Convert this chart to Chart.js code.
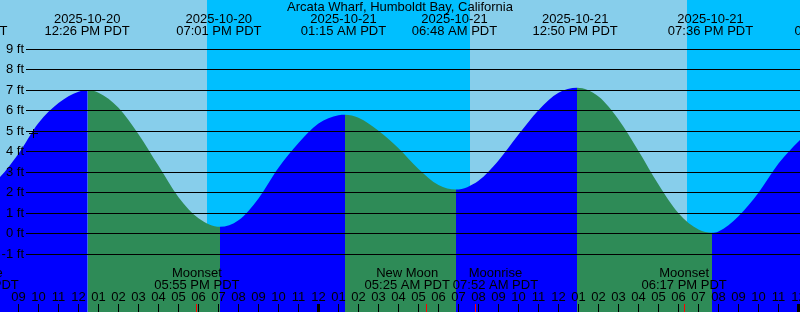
<!DOCTYPE html>
<html>
<head>
<meta charset="utf-8">
<title>Arcata Wharf tides</title>
<script src="https://cdn.jsdelivr.net/npm/chart.js@4/dist/chart.umd.min.js"></script>
<style>
  html, body { margin: 0; padding: 0; background: #87ceeb; }
  #wrap { position: relative; width: 800px; height: 312px; }
</style>
</head>
<body>
<div id="wrap"><canvas id="tideChart"></canvas></div>
<script>
// all times are hours counted from 2025-10-20 00:00 PDT
const stationName = 'Arcata Wharf, Humboldt Bay, California';

// tide height (ft), about hourly plus the turning points
const tideTimes = [6.32, 7, 8, 9, 10, 11, 12, 12.46, 13, 14,
  15, 16, 17, 18, 19.075, 20, 21, 22, 23, 24,
  25, 25.325, 26, 27, 28, 29, 30, 30.875, 32, 33,
  34, 35, 36, 36.925, 38, 39, 40, 41, 42, 43,
  43.675, 44, 45, 46, 47, 48, 49, 49.93];
const tideHeights = [1.8, 2.1, 2.7, 3.9, 5.4, 6.38, 6.93, 7.0, 6.88, 6.15,
  4.86, 3.31, 1.78, 0.75, 0.33, 0.65, 1.72, 3.22, 4.43, 5.38,
  5.78, 5.81, 5.66, 5.03, 4.17, 3.16, 2.37, 2.15, 2.58, 3.57,
  4.84, 6.03, 6.88, 7.13, 6.7, 5.58, 4.04, 2.4, 1.0, 0.2,
  0.04, 0.1, 0.85, 2.0, 3.42, 4.5, 5.4, 5.9];

// high / low tide labels along the top
const tideEventTimes = [6.32, 12.433, 19.017, 25.25, 30.8, 36.833, 43.6, 49.93];
const tideEventDates = ['2025-10-20', '2025-10-20', '2025-10-20', '2025-10-21',
  '2025-10-21', '2025-10-21', '2025-10-21', '2025-10-22'];
const tideEventClock = ['06:19 AM PDT', '12:26 PM PDT', '07:01 PM PDT', '01:15 AM PDT',
  '06:48 AM PDT', '12:50 PM PDT', '07:36 PM PDT', '01:56 AM PDT'];

// moon events along the bottom
const moonEventTimes = [6.88, 17.917, 29.417, 31.867, 42.283];
const moonEventNames = ['Moonrise', 'Moonset', 'New Moon', 'Moonrise', 'Moonset'];
const moonEventClock = ['06:53 AM PDT', '05:55 PM PDT', '05:25 AM PDT', '07:52 AM PDT', '06:17 PM PDT'];

// night = sunset .. sunrise
const nightStarts = [18.425, 42.425];
const nightEnds   = [31.575, 56];

const footTicks = [-1, 0, 1, 2, 3, 4, 5, 6, 7, 8, 9];

const markTimes   = [9.75];
const markHeights = [4.89];

const DAY   = '#87ceeb';
const NIGHT = '#00bfff';
const RISE  = '#0000ff';
const FALL  = '#2e8b57';
const FONT  = '13px "Liberation Sans", Arial, Helvetica, sans-serif';

function hourLabel(t) {
    const h = ((Math.round(t) % 12) + 12) % 12;
    return String(h === 0 ? 12 : h).padStart(2, '0');
}

// push overlapping labels apart, like xtide does
function spreadLabels(xs, widths, gap) {
    const pos = xs.slice();
    for (let pass = 0; pass < 6; pass++) {
        for (let i = 1; i < pos.length; i++) {
            const need = (widths[i - 1] + widths[i]) / 2 + gap;
            const have = pos[i] - pos[i - 1];
            if (have < need) {
                const d = (need - have) / 2;
                pos[i - 1] -= d;
                pos[i] += d;
            }
        }
    }
    return pos;
}

const skyPlugin = {
    id: 'sky',
    beforeDatasetsDraw(chart) {
        const { ctx, chartArea: a, scales: { x } } = chart;
        ctx.save();
        ctx.fillStyle = DAY;
        ctx.fillRect(a.left, a.top, a.right - a.left, a.bottom - a.top);
        ctx.fillStyle = NIGHT;
        nightStarts.forEach((s, i) => {
            const x0 = Math.round(x.getPixelForValue(s));
            const x1 = Math.round(x.getPixelForValue(nightEnds[i]));
            ctx.fillRect(x0, a.top, x1 - x0, a.bottom - a.top);
        });
        ctx.restore();
    }
};

const labelPlugin = {
    id: 'labels',
    afterDatasetsDraw(chart) {
        const { ctx, chartArea: a, scales: { x, y } } = chart;
        ctx.save();
        ctx.font = FONT;
        ctx.fillStyle = '#000';
        ctx.strokeStyle = '#000';
        ctx.lineWidth = 1;

        // ── foot lines + labels ──
        ctx.textAlign = 'right';
        ctx.textBaseline = 'middle';
        footTicks.forEach(v => {
            const py = Math.round(y.getPixelForValue(v) - 0.5) + 0.5;
            ctx.beginPath();
            ctx.moveTo(26, py);
            ctx.lineTo(a.right, py);
            ctx.stroke();
            ctx.fillText(v + ' ft', 24, py);
        });

        // ── title + tide events ──
        ctx.textAlign = 'center';
        ctx.fillText(stationName, (a.left + a.right) / 2, 7);
        tideEventTimes.forEach((t, i) => {
            const px = x.getPixelForValue(t);
            ctx.fillText(tideEventDates[i], px, 19.5);
            ctx.fillText(tideEventClock[i], px, 31.5);
        });

        // ── moon events ──
        const widths = moonEventTimes.map((t, i) =>
            Math.max(ctx.measureText(moonEventNames[i]).width, ctx.measureText(moonEventClock[i]).width));
        const moonX = spreadLabels(moonEventTimes.map(t => x.getPixelForValue(t)), widths, 3);
        moonEventTimes.forEach((t, i) => {
            ctx.fillText(moonEventNames[i], moonX[i], 273.5);
            ctx.fillText(moonEventClock[i], moonX[i], 285.5);
        });

        // ── hour ticks ──
        for (let h = Math.ceil(x.min); h <= Math.floor(x.max); h++) {
            const px = Math.round(x.getPixelForValue(h) - 0.5) + 0.5;
            ctx.fillText(hourLabel(h), px, 297);
            if (h % 24 === 0) {
                ctx.fillRect(px - 1.5, 304, 3, a.bottom - 304);
            } else {
                ctx.beginPath();
                ctx.moveTo(px, 304);
                ctx.lineTo(px, a.bottom);
                ctx.stroke();
            }
        }
        ctx.strokeStyle = '#ff0000';
        moonEventTimes.forEach(t => {
            const px = Math.round(x.getPixelForValue(t) - 0.5) + 0.5;
            ctx.beginPath();
            ctx.moveTo(px, 304);
            ctx.lineTo(px, a.bottom);
            ctx.stroke();
        });
        ctx.restore();
    }
};

document.addEventListener('DOMContentLoaded', function () {
    const ctx = document.getElementById('tideChart');

    new Chart(ctx, {
        type: 'line',
        data: {
            datasets: [
                {
                    label: 'Tide',
                    data: tideTimes.map((t, i) => ({ x: t, y: tideHeights[i] })),
                    borderWidth: 0,
                    pointRadius: 0,
                    backgroundColor: RISE,
                    fill: 'start',
                    cubicInterpolationMode: 'monotone',
                    segment: {
                        backgroundColor: c => c.p1.parsed.y > c.p0.parsed.y ? RISE : FALL,
                    },
                    order: 2,
                },
                {
                    type: 'scatter',
                    label: 'Now',
                    data: markTimes.map((t, i) => ({ x: t, y: markHeights[i] })),
                    pointStyle: 'cross',
                    pointRadius: 4.5,
                    borderColor: '#000',
                    borderWidth: 1,
                    order: 1,
                }
            ]
        },
        options: {
            responsive: true,
            maintainAspectRatio: false,
            animation: false,
            events: [],
            layout: { padding: 0, autoPadding: false },
            plugins: {
                legend: { display: false },
                tooltip: { enabled: false }
            },
            scales: {
                x: { type: 'linear', display: false, min: 8.075, max: 48.075 },
                y: { type: 'linear', display: false, min: -3.832, max: 11.417 }
            }
        },
        plugins: [skyPlugin, labelPlugin]
    });
});
</script>
</body>
</html>
